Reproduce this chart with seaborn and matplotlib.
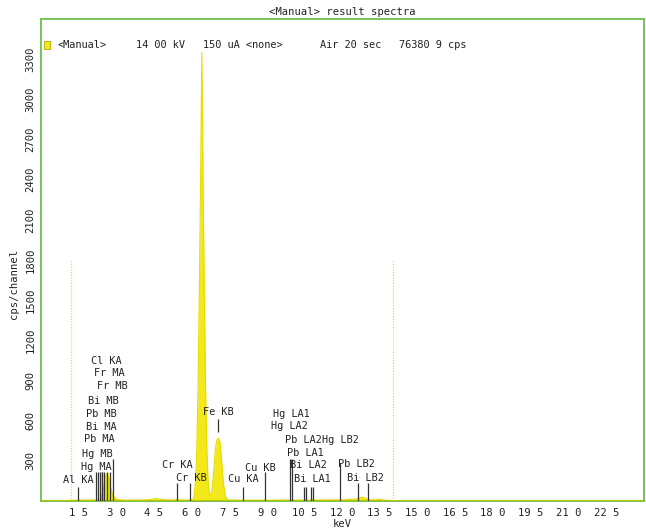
import matplotlib
matplotlib.use("Agg")
import matplotlib.pyplot as plt
from matplotlib.patches import Rectangle
import seaborn as sns
import pandas as pd

# Spectrum (keV, cps/channel)
energy = [0.0, 0.9, 1.0, 1.3, 1.6, 2.0, 2.2, 2.3, 2.4, 2.45, 2.5, 2.55, 2.6, 2.65,
          2.7, 2.75, 2.8, 2.85, 2.9, 3.0, 3.1, 3.4, 4.0, 4.4, 4.55, 4.7, 4.85, 5.2,
          5.4, 5.6, 5.9, 6.0, 6.05, 6.1, 6.15, 6.2, 6.25, 6.3, 6.35, 6.4, 6.45,
          6.5, 6.55, 6.6, 6.65, 6.7, 6.75, 6.8, 6.85, 6.9, 6.95, 7.0, 7.06, 7.12,
          7.17, 7.22, 7.27, 7.32, 7.37, 7.45, 7.8, 9.0, 10.5, 12.0, 12.5, 12.65,
          12.78, 12.9, 13.05, 13.3, 13.45, 13.6, 13.9, 14.1, 24.0]
counts = [0, 0, 4, 6, 6, 7, 8, 10, 30, 60, 110, 165, 200, 205,
          170, 120, 75, 45, 30, 15, 9, 6, 7, 12, 18, 16, 9, 7,
          10, 7, 7, 8, 12, 48, 147, 382, 835, 1535, 2370, 3350, 2370,
          1535, 835, 382, 147, 60, 40, 80, 170, 290, 400, 455, 470, 440,
          350, 215, 117, 54, 21, 8, 6, 6, 7, 8, 14, 24,
          28, 22, 8, 8, 12, 8, 4, 0, 0]

# Identified emission lines
line_names = ["Al KA", "Hg MA", "Hg MB", "Pb MA", "Bi MA", "Pb MB", "Bi MB",
              "Cl KA", "Fr MA", "Fr MB", "Cr KA", "Cr KB", "Fe KB", "Cu KA",
              "Cu KB", "Hg LA2", "Hg LA1", "Pb LA2", "Pb LA1", "Bi LA2",
              "Bi LA1", "Hg LB2", "Pb LB2", "Bi LB2"]
line_keV = [1.49, 2.195, 2.282, 2.345, 2.423, 2.443, 2.526,
            2.622, 2.73, 2.87, 5.41, 5.95, 7.06, 8.05,
            8.90, 9.90, 9.99, 10.45, 10.55, 10.73,
            10.84, 11.92, 12.62, 13.02]
line_low = [0, 0, 0, 0, 0, 0, 0,
            0, 0, 0, 0, 0, 514, 0,
            0, 0, 0, 0, 0, 0,
            0, 0, 0, 0]
line_high = [105, 215, 215, 215, 215, 215, 215,
             215, 215, 315, 133, 133, 611, 105,
             215, 310, 310, 105, 105, 105,
             105, 285, 133, 133]
label_x = [1.48, 2.22, 2.25, 2.33, 2.40, 2.41, 2.48,
           2.61, 2.72, 2.85, 5.43, 5.99, 7.06, 8.05,
           8.73, 9.88, 9.96, 10.44, 10.52, 10.64,
           10.80, 11.90, 12.54, 12.92]
label_y = [155, 253, 350, 462, 552, 648, 746,
           1045, 955, 858, 268, 170, 665, 163,
           245, 560, 648, 455, 357, 268,
           163, 455, 275, 170]

x_ticks = [1.5, 3.0, 4.5, 6.0, 7.5, 9.0, 10.5, 12.0, 13.5, 15.0, 16.5, 18.0,
           19.5, 21.0, 22.5]
x_tick_labels = ["1 5", "3 0", "4 5", "6 0", "7 5", "9 0", "10 5", "12 0",
                 "13 5", "15 0", "16 5", "18 0", "19 5", "21 0", "22 5"]
y_ticks = [300, 600, 900, 1200, 1500, 1800, 2100, 2400, 2700, 3000, 3300]
y_tick_labels = ["300", "600", "900", "1200", "1500", "1800", "2100", "2400",
                 "2700", "3000", "3300"]
roi_keV = [1.2, 14.0]
roi_height = 1800

header = [("<Manual>", 57), ("14 00 kV", 136), ("150 uA <none>", 203),
          ("Air 20 sec", 320), ("76380 9 cps", 399)]

sns.set_style("white")
mono = "DejaVu Sans Mono"
plt.rcParams["font.family"] = [mono]

GREEN = "#6cc04a"
YELLOW = "#f2e81a"

fig = plt.figure(figsize=(6.46, 5.31), dpi=100)
ax = fig.add_axes([41 / 646, 30 / 531, 603 / 646, 482 / 531])

spec = pd.DataFrame({"keV": energy, "cps": counts})
ax.fill_between(spec["keV"], spec["cps"], color=YELLOW, lw=0, zorder=2)
sns.lineplot(data=spec, x="keV", y="cps", color="#e6dc00", lw=0.8, ax=ax,
             zorder=3)
ax.axhline(0, color="#b8c800", lw=1.5, zorder=4)

# region-of-interest markers
ax.vlines(roi_keV, 0, roi_height, colors="#e8d84a", linestyles=(0, (1, 1.2)),
          lw=0.9, zorder=1)

# line markers and their labels
ax.vlines(line_keV, line_low, line_high, colors="#333333", lw=0.9, zorder=5)
for name, lx, ly in zip(line_names, label_x, label_y):
    ax.text(lx, ly, name, ha="center", va="center", fontsize=7.4,
            color="#222222", family=mono, zorder=6)

ax.set_xlim(0, 24)
ax.set_ylim(0, 3600)
ax.set_xticks(x_ticks)
ax.set_xticklabels(x_tick_labels)
ax.set_yticks(y_ticks)
ax.set_yticklabels(y_tick_labels, rotation=90, va="center")
ax.tick_params(axis="both", colors=GREEN, length=3, width=1, labelsize=7.6,
               labelcolor="#222222", pad=2)
ax.tick_params(axis="y", pad=1)
ax.set_xlabel("keV", fontsize=7.6, color="#222222", labelpad=1)
ax.set_ylabel("cps/channel", fontsize=7.6, color="#222222", labelpad=2)
ax.yaxis.set_label_coords(-0.037, 0.45)
ax.set_title("<Manual> result spectra", fontsize=7.6, color="#222222", pad=3)

for side in ax.spines.values():
    side.set_color(GREEN)
    side.set_linewidth(1.3)

# header line inside the frame
ax.add_patch(Rectangle(((44 - 41) / 603, (501 - 49) / 482), 6 / 603, 8 / 482,
                       transform=ax.transAxes, facecolor=YELLOW,
                       edgecolor="#b0a800", lw=0.6, zorder=7))
for txt, px in header:
    ax.text((px - 41) / 603, (501 - 45) / 482, txt, transform=ax.transAxes,
            ha="left", va="center", fontsize=7.4, color="#222222", family=mono)

fig.savefig("out.png", dpi=100)
